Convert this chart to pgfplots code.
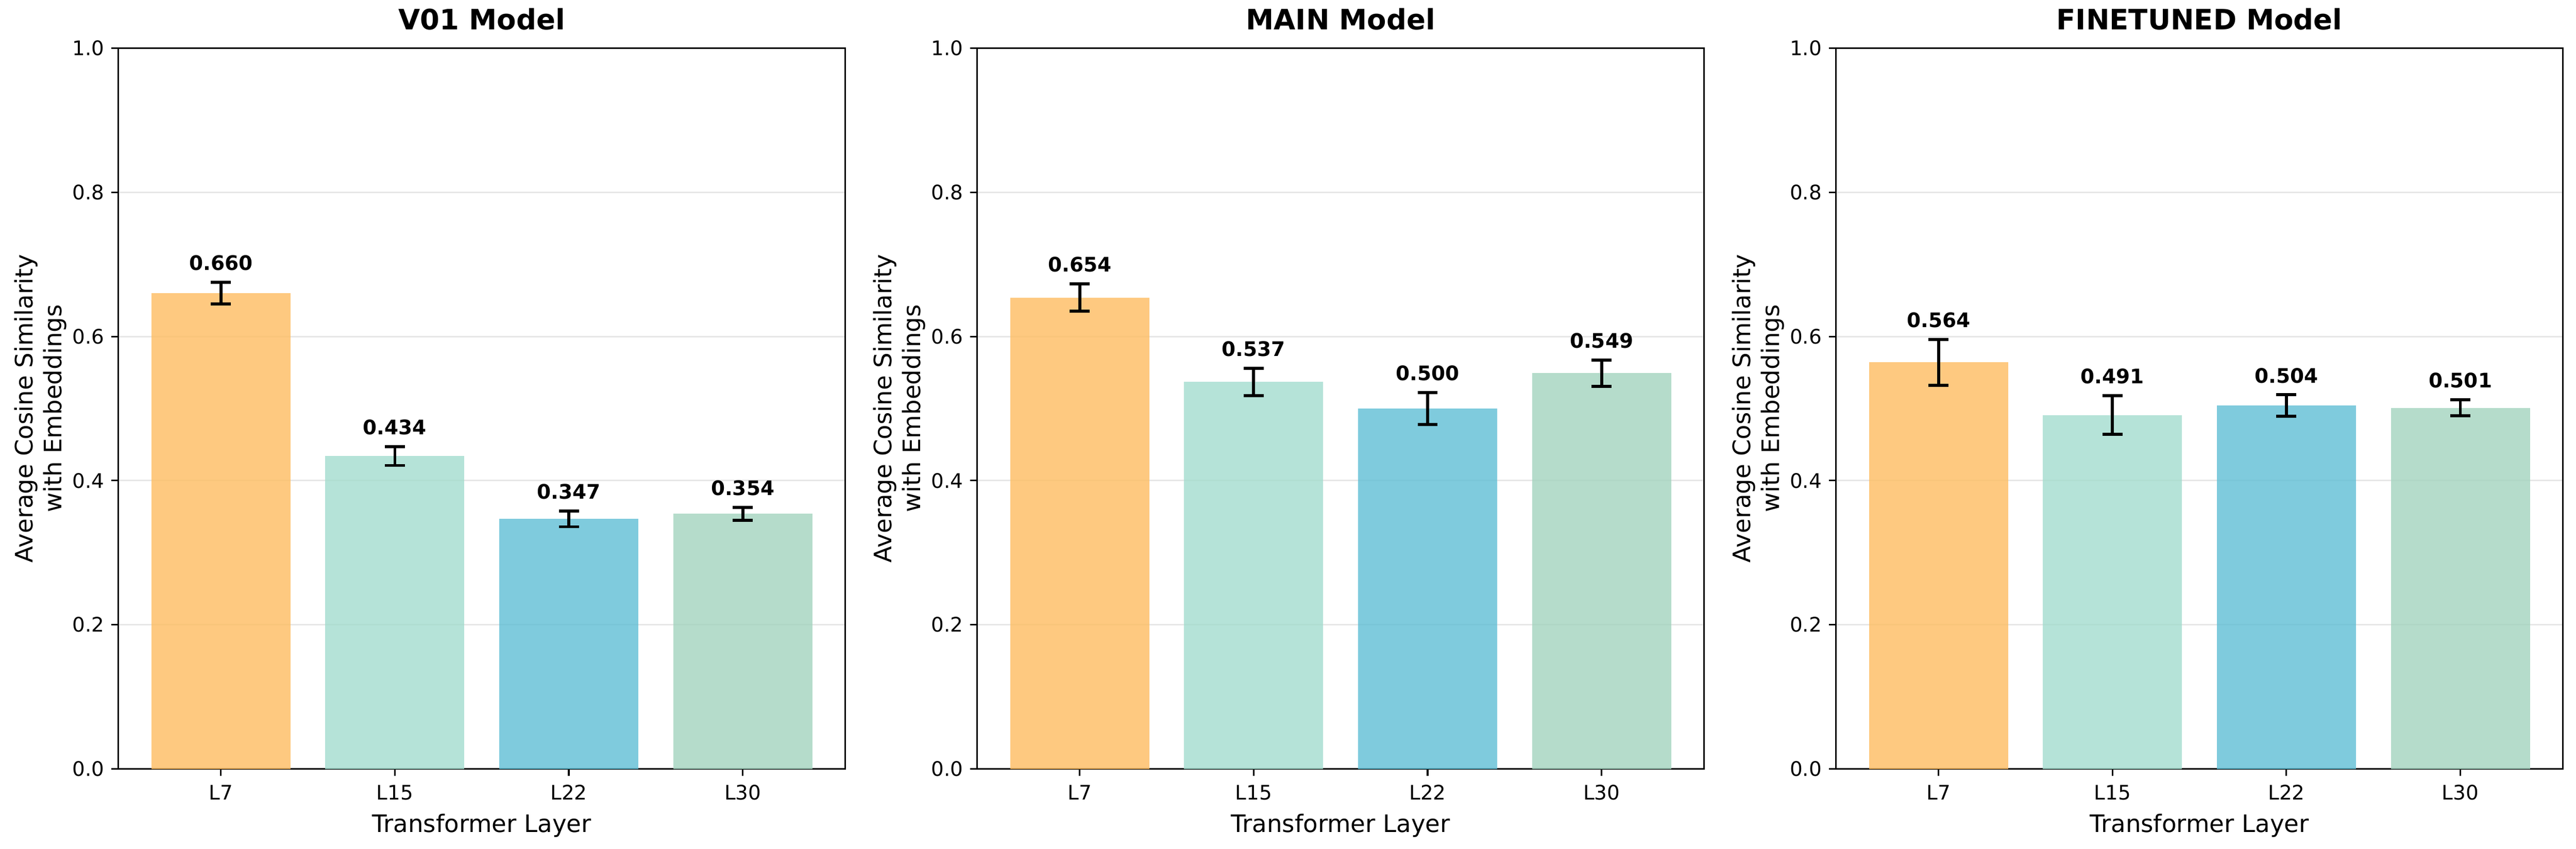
\documentclass[border=0pt]{standalone}
\usepackage{fontspec}
\setmainfont{DejaVu Sans}
\usepackage{pgfplots}
\usepackage{pgfplotstable}
\pgfplotsset{compat=1.18}
\usepgfplotslibrary{groupplots}

% bar colours (drawn at 80% opacity)
\definecolor{cA}{RGB}{254,188,96}
\definecolor{cB}{RGB}{163,220,206}
\definecolor{cC}{RGB}{95,190,213}
\definecolor{cD}{RGB}{163,211,190}
\definecolor{gridgray}{RGB}{176,176,176}

\pgfplotstableread{
x y e
0 0.660 0.015
1 0.434 0.013
2 0.347 0.011
3 0.354 0.009
}\vzero
\pgfplotstableread{
x y e
0 0.654 0.019
1 0.537 0.019
2 0.500 0.022
3 0.549 0.018
}\mainm
\pgfplotstableread{
x y e
0 0.564 0.032
1 0.491 0.027
2 0.504 0.015
3 0.501 0.011
}\fine

\pgfplotsset{
  barsty/.style={ybar, bar width=0.8, bar shift=0, draw=none, fill opacity=0.8,
    error bars/y dir=both, error bars/y explicit,
    error bars/error bar style={draw=black, line width=1.5pt},
    error bars/error mark options={rotate=90, mark size=5pt, line width=1.5pt, draw=black}},
}

\newcommand{\layerbars}[1]{%
  \addplot[barsty, fill=cA, restrict x to domain=-0.1:0.1] table[x=x,y=y,y error=e]{#1};
  \addplot[barsty, fill=cB, restrict x to domain=0.9:1.1] table[x=x,y=y,y error=e]{#1};
  \addplot[barsty, fill=cC, restrict x to domain=1.9:2.1] table[x=x,y=y,y error=e]{#1};
  \addplot[barsty, fill=cD, restrict x to domain=2.9:3.1] table[x=x,y=y,y error=e]{#1};
  \addplot[draw=none, mark=none, point meta=explicit,
    nodes near coords={\pgfmathprintnumber[fixed,fixed zerofill,precision=3]{\pgfplotspointmeta}},
    nodes near coords style={anchor=base, inner sep=0pt, yshift=2.4pt, text=black,
      font=\bfseries\fontsize{10}{12}\selectfont}]
    table[x=x, y expr=\thisrow{y}+\thisrow{e}+0.01, meta=y]{#1};
}

\begin{document}
\begin{tikzpicture}
\begin{groupplot}[
  group style={group size=3 by 1, horizontal sep=65.7pt},
  scale only axis, width=362.6pt, height=359.5pt,
  xmin=-0.59, xmax=3.59, ymin=0, ymax=1,
  xtick={0,1,2,3}, xticklabels={L7,L15,L22,L30},
  ytick={0,0.2,0.4,0.6,0.8,1.0},
  yticklabel style={/pgf/number format/.cd, fixed, fixed zerofill, precision=1},
  xticklabel style={yshift=-1pt},
  /pgf/number format/assume math mode=true,
  tick label style={font=\fontsize{10}{12}\selectfont},
  xtick pos=left, ytick pos=left, tick align=outside,
  major tick length=3.5pt,
  every tick/.style={black, line width=0.8pt},
  axis line style={line width=0.8pt},
  ymajorgrids, grid style={gridgray, opacity=0.3, line width=0.8pt},
  xlabel={Transformer Layer},
  ylabel={Average Cosine Similarity\\with Embeddings},
  label style={font=\fontsize{12}{14.4}\selectfont},
  ylabel style={align=center},
  ylabel shift=-4pt,
  title style={font=\bfseries\fontsize{14}{16.8}\selectfont, at={(0.5,1)}, anchor=base, yshift=3.3pt, inner sep=0pt},
]
\nextgroupplot[title={V01 Model}]
\layerbars{\vzero}
\nextgroupplot[title={MAIN Model}]
\layerbars{\mainm}
\nextgroupplot[title={FINETUNED Model}]
\layerbars{\fine}
\end{groupplot}
\pgfresetboundingbox
\path[use as bounding box] ([shift={(-59pt,-39.8pt)}]group c1r1.south west) rectangle ([shift={(6.5pt,24pt)}]group c3r1.north east);
\end{tikzpicture}
\end{document}
